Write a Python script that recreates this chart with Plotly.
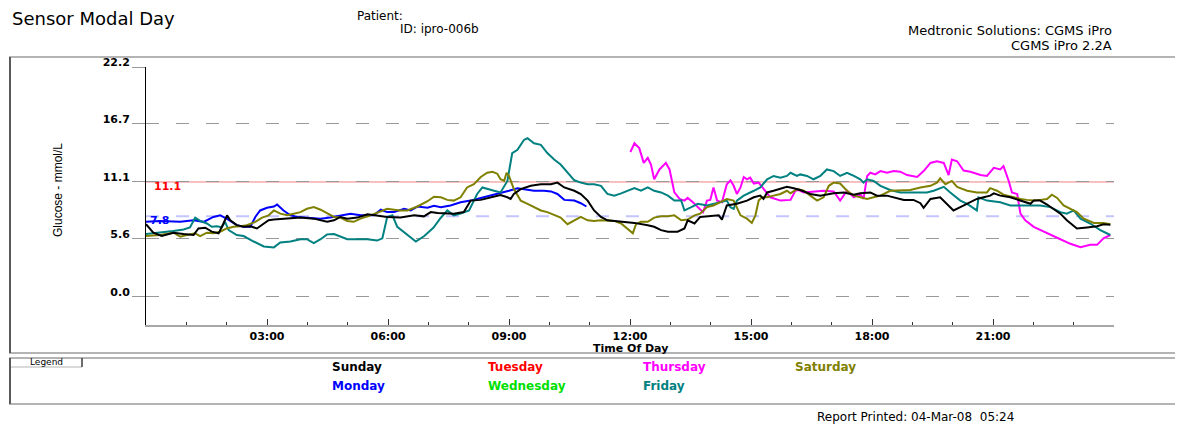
import plotly.graph_objects as go

# ---------------- data (time of day in hours, glucose mmol/L) ----------------
sunday = [(0.00, 7.02), (0.18, 6.20), (0.39, 5.88), (0.68, 6.20), (0.93, 6.07), (1.18, 5.98), (1.30, 6.61),
          (1.47, 6.68), (1.63, 6.30), (1.80, 6.14), (1.92, 7.09), (2.01, 7.88), (2.09, 7.40), (2.25, 6.93),
          (2.42, 6.77), (2.59, 6.83), (2.75, 6.61), (2.88, 6.93), (3.04, 7.40), (3.17, 7.47), (3.50, 7.56),
          (3.83, 7.66), (4.16, 7.56), (4.49, 7.25), (4.66, 7.40), (4.82, 7.72), (4.99, 7.56), (5.24, 7.66),
          (5.49, 7.97), (5.65, 7.88), (5.98, 7.72), (6.31, 7.66), (6.65, 7.88), (6.89, 7.78), (7.06, 8.19),
          (7.23, 8.10), (7.38, 8.10), (7.63, 8.04), (7.88, 8.19), (8.05, 9.30), (8.30, 9.37), (8.54, 9.62),
          (8.79, 9.84), (8.96, 9.62), (9.04, 9.46), (9.12, 9.94), (9.29, 10.41), (9.54, 10.73), (9.79, 10.88),
          (10.04, 10.88), (10.20, 11.04), (10.37, 10.57), (10.62, 10.25), (10.78, 9.94), (10.95, 9.30),
          (11.11, 8.35), (11.28, 7.72), (11.44, 7.40), (11.78, 7.25), (12.11, 7.15), (12.44, 6.93), (12.60, 6.77),
          (12.77, 6.45), (12.94, 6.30), (13.18, 6.30), (13.35, 6.61), (13.43, 7.40), (13.60, 7.09), (13.74, 7.72),
          (13.99, 7.78), (14.20, 7.88), (14.28, 7.47), (14.40, 8.83), (14.65, 8.99), (14.90, 9.30), (15.07, 9.62),
          (15.23, 9.78), (15.31, 9.46), (15.40, 10.09), (15.56, 10.25), (15.73, 10.41), (15.89, 10.63),
          (16.06, 10.50), (16.22, 10.32), (16.47, 9.94), (16.72, 9.78), (17.05, 10.00), (17.30, 10.09),
          (17.55, 9.87), (17.71, 10.00), (17.96, 10.09), (18.12, 9.78), (18.37, 9.78), (18.54, 9.62),
          (18.79, 9.37), (19.03, 9.37), (19.20, 9.05), (19.28, 8.61), (19.45, 9.46), (19.69, 9.62), (19.86, 8.99),
          (20.02, 8.35), (20.19, 8.67), (20.44, 9.14), (20.60, 9.46), (20.77, 9.62), (20.93, 9.78), (21.02, 10.00),
          (21.18, 9.78), (21.43, 9.62), (21.68, 9.30), (21.93, 8.99), (22.01, 9.30), (22.17, 9.30), (22.34, 8.92),
          (22.50, 8.51), (22.67, 8.04), (22.83, 7.40), (23.08, 6.61), (23.33, 6.71), (23.58, 6.83), (23.74, 7.02),
          (23.91, 6.96)]

monday = [(0.00, 7.25), (0.35, 7.34), (0.85, 7.25), (1.18, 7.40), (1.43, 7.25), (1.67, 7.72), (1.84, 7.88),
          (2.00, 7.56), (2.25, 6.93), (2.42, 6.77), (2.59, 6.77), (2.71, 7.72), (2.83, 8.35), (3.00, 8.61),
          (3.17, 8.73), (3.25, 8.92), (3.41, 8.35), (3.58, 7.88), (3.75, 7.72), (3.99, 7.66), (4.33, 7.56),
          (4.57, 7.66), (4.82, 7.88), (5.07, 8.04), (5.32, 7.88), (5.65, 7.88), (5.82, 8.42), (5.98, 8.19),
          (6.15, 8.19), (6.40, 8.51), (6.56, 8.35), (6.73, 8.73), (6.98, 8.61), (7.14, 8.80), (7.31, 8.67),
          (7.55, 8.83), (7.80, 9.14), (8.05, 9.30), (8.30, 9.56), (8.54, 9.78), (8.79, 10.00), (9.00, 10.25),
          (9.21, 10.50), (9.37, 10.41), (9.62, 10.25), (9.87, 10.25), (10.04, 10.19), (10.20, 9.94),
          (10.37, 9.37), (10.62, 9.30), (10.78, 9.05), (10.92, 8.73)]

tuesday = []
wednesday = []

thursday = [(12.01, 13.99), (12.11, 14.84), (12.23, 14.37), (12.34, 12.94), (12.44, 13.42), (12.52, 12.78),
            (12.60, 11.36), (12.73, 12.31), (12.89, 12.94), (12.98, 12.31), (13.10, 10.09), (13.23, 9.46),
            (13.35, 9.30), (13.43, 9.56), (13.56, 9.14), (13.68, 8.67), (13.81, 8.19), (13.91, 9.30),
            (13.99, 9.37), (14.07, 10.57), (14.16, 9.30), (14.28, 9.14), (14.40, 10.88), (14.49, 11.26),
            (14.57, 10.73), (14.65, 9.94), (14.74, 10.57), (14.82, 11.58), (14.90, 11.36), (14.98, 11.52),
            (15.07, 10.95), (15.19, 11.04), (15.31, 10.41), (15.48, 9.62), (15.73, 9.30), (15.98, 9.37),
            (16.10, 10.25), (16.18, 10.32), (16.31, 10.09), (16.55, 10.19), (16.80, 10.25), (17.05, 10.19),
            (17.21, 9.30), (17.38, 10.25), (17.55, 9.62), (17.71, 9.94), (17.79, 9.46), (17.88, 11.68),
            (17.96, 11.99), (18.08, 11.83), (18.21, 12.15), (18.37, 11.99), (18.54, 12.15), (18.70, 12.09),
            (18.87, 11.77), (19.12, 11.58), (19.28, 12.15), (19.45, 12.94), (19.61, 13.10), (19.78, 12.94),
            (19.90, 11.77), (19.98, 13.26), (20.11, 13.10), (20.27, 12.21), (20.44, 12.09), (20.69, 11.77),
            (20.85, 11.68), (21.02, 12.47), (21.18, 12.31), (21.26, 12.63), (21.39, 11.20), (21.47, 10.09),
            (21.60, 9.94), (21.68, 8.04), (21.80, 7.40), (22.01, 6.77), (22.34, 6.14), (22.67, 5.57),
            (22.92, 5.13), (23.17, 4.81), (23.41, 5.03), (23.58, 5.03), (23.74, 5.66), (23.91, 5.98)]

friday = [(0.00, 6.07), (0.35, 6.20), (0.68, 6.36), (0.93, 6.52), (1.09, 6.71), (1.22, 7.66), (1.34, 7.34),
          (1.51, 7.09), (1.63, 6.77), (1.76, 6.83), (1.88, 6.71), (1.96, 7.25), (2.05, 6.45), (2.25, 5.98),
          (2.42, 5.88), (2.67, 5.35), (2.92, 4.87), (3.17, 4.78), (3.33, 5.25), (3.58, 5.35), (3.83, 5.57),
          (3.99, 5.57), (4.16, 5.19), (4.33, 5.57), (4.49, 6.04), (4.66, 6.07), (4.82, 5.82), (4.99, 5.57),
          (5.24, 5.57), (5.49, 5.57), (5.73, 5.44), (5.86, 5.66), (5.98, 7.72), (6.11, 7.88), (6.23, 6.77),
          (6.48, 5.98), (6.69, 5.35), (6.90, 5.88), (7.13, 6.70), (7.30, 7.60), (7.47, 8.35), (7.63, 7.88),
          (7.80, 8.04), (8.01, 8.35), (8.21, 9.94), (8.34, 10.57), (8.46, 10.41), (8.63, 10.25), (8.79, 10.09),
          (8.96, 11.20), (9.08, 13.89), (9.21, 14.21), (9.37, 15.16), (9.46, 15.32), (9.62, 14.84), (9.79, 14.68),
          (9.95, 13.89), (10.12, 13.26), (10.28, 12.78), (10.45, 11.99), (10.62, 11.26), (10.78, 11.04),
          (10.95, 10.88), (11.11, 10.88), (11.28, 10.73), (11.44, 9.94), (11.61, 9.78), (11.78, 10.00),
          (11.94, 10.25), (12.11, 10.50), (12.27, 10.25), (12.44, 10.57), (12.60, 10.25), (12.77, 10.09),
          (12.94, 9.78), (13.10, 9.30), (13.27, 9.30), (13.35, 8.35), (13.52, 8.67), (13.68, 8.99),
          (13.91, 8.83), (14.07, 8.99), (14.24, 9.14), (14.40, 9.30), (14.49, 8.67), (14.57, 8.51),
          (14.65, 9.30), (14.82, 9.78), (15.07, 10.25), (15.23, 10.57), (15.40, 11.36), (15.56, 11.68),
          (15.73, 11.52), (15.89, 11.68), (15.98, 11.99), (16.14, 11.68), (16.22, 11.83), (16.39, 11.68),
          (16.55, 11.36), (16.72, 11.68), (16.88, 12.31), (17.05, 12.15), (17.21, 11.68), (17.38, 11.99),
          (17.55, 11.68), (17.71, 11.36), (17.79, 11.04), (17.88, 11.36), (18.04, 11.20), (18.21, 10.73),
          (18.45, 10.32), (18.70, 10.09), (19.03, 10.09), (19.36, 10.09), (19.53, 10.25), (19.78, 10.63),
          (19.94, 10.09), (20.19, 9.30), (20.36, 8.99), (20.60, 8.35), (20.64, 9.62), (20.85, 9.30),
          (21.18, 9.14), (21.43, 8.83), (21.84, 8.83), (22.17, 8.83), (22.42, 8.67), (22.67, 8.19),
          (22.83, 8.04), (23.00, 8.35), (23.17, 7.56), (23.41, 7.09), (23.66, 6.45), (23.91, 5.98)]

saturday = [(0.00, 5.88), (0.35, 5.98), (0.68, 6.20), (0.85, 5.82), (1.01, 5.98), (1.22, 6.14), (1.34, 5.88),
            (1.51, 6.20), (1.67, 6.14), (1.84, 6.30), (2.00, 6.61), (2.17, 6.77), (2.34, 6.83), (2.50, 6.93),
            (2.71, 7.25), (2.88, 7.66), (3.04, 7.88), (3.17, 8.35), (3.33, 8.04), (3.50, 7.88), (3.66, 8.04),
            (3.83, 8.19), (3.99, 8.51), (4.16, 8.67), (4.33, 8.42), (4.49, 8.04), (4.66, 7.72), (4.82, 7.66),
            (4.99, 7.34), (5.15, 7.25), (5.32, 7.56), (5.57, 7.88), (5.82, 8.29), (5.98, 8.51), (6.15, 8.42),
            (6.31, 8.35), (6.48, 8.35), (6.73, 8.73), (6.98, 9.24), (7.14, 9.68), (7.31, 9.62), (7.47, 9.37),
            (7.63, 9.30), (7.80, 9.62), (7.96, 10.57), (8.13, 10.88), (8.30, 11.58), (8.46, 11.99), (8.59, 12.09),
            (8.71, 11.90), (8.79, 11.36), (8.88, 11.20), (8.94, 11.99), (9.00, 11.68), (9.12, 10.41), (9.29, 9.30),
            (9.46, 8.99), (9.62, 8.67), (9.79, 8.35), (9.95, 8.19), (10.12, 7.88), (10.28, 7.66), (10.45, 7.02),
            (10.62, 7.40), (10.78, 7.72), (10.95, 7.40), (11.11, 7.34), (11.28, 7.40), (11.44, 7.40),
            (11.61, 7.34), (11.78, 7.09), (11.94, 6.61), (12.07, 6.14), (12.15, 7.02), (12.27, 7.25),
            (12.44, 7.25), (12.60, 7.66), (12.77, 7.78), (12.94, 7.78), (13.10, 7.88), (13.27, 7.40),
            (13.43, 7.47), (13.60, 7.88), (13.74, 8.04), (13.91, 8.67), (14.07, 8.83), (14.24, 9.14),
            (14.40, 9.46), (14.57, 9.30), (14.65, 8.67), (14.74, 7.88), (14.90, 7.56), (15.02, 7.15),
            (15.11, 7.88), (15.19, 9.30), (15.27, 9.62), (15.40, 9.62), (15.56, 9.78), (15.73, 9.94),
            (15.89, 10.25), (15.98, 10.00), (16.14, 10.41), (16.31, 10.25), (16.47, 9.78), (16.64, 9.30),
            (16.80, 9.62), (16.93, 10.73), (17.05, 11.04), (17.21, 10.95), (17.38, 10.25), (17.55, 9.78),
            (17.71, 9.62), (17.88, 9.46), (18.04, 9.62), (18.21, 9.78), (18.45, 10.25), (18.70, 10.25),
            (18.95, 10.32), (19.20, 10.57), (19.45, 10.73), (19.61, 11.04), (19.69, 11.45), (19.82, 10.88),
            (19.98, 11.20), (20.11, 10.63), (20.36, 10.25), (20.60, 10.09), (20.85, 10.09), (20.93, 10.50),
            (21.10, 10.25), (21.26, 9.87), (21.43, 9.68), (21.68, 9.46), (21.84, 9.37), (22.01, 9.30),
            (22.17, 9.37), (22.34, 9.46), (22.46, 9.87), (22.59, 9.56), (22.75, 8.83), (22.92, 8.51),
            (23.08, 8.19), (23.25, 7.56), (23.50, 7.15), (23.74, 7.15), (23.91, 7.02)]

day_names = ["Sunday", "Monday", "Tuesday", "Wednesday", "Thursday", "Friday", "Saturday"]
day_colors = ["#000000", "#0000FF", "#FF0000", "#00E000", "#FF00FF", "#008080", "#808000"]
day_series = [sunday, monday, tuesday, wednesday, thursday, friday, saturday]

y_ticks = [0.0, 5.6, 11.1, 16.7, 22.2]
y_ticktext = ["0.0", "5.6", "11.1", "16.7", "22.2"]
x_ticks = [3, 6, 9, 12, 15, 18, 21]
x_ticktext = ["03:00", "06:00", "09:00", "12:00", "15:00", "18:00", "21:00"]
high_limit = 11.1
low_limit = 7.8

# ---------------- layout geometry ----------------
# the page body adds an 8 px margin, so the figure is 8 px smaller and
# every position below is given in page pixels.
PAGE_OFF = 8
FW, FH = 1183 - PAGE_OFF, 425 - PAGE_OFF
PLOT_X0, PLOT_X1 = 146, 1114      # page pixels of the plot area
PLOT_Y0, PLOT_Y1 = 67, 325
PW, PH = PLOT_X1 - PLOT_X0, PLOT_Y1 - PLOT_Y0
ML = PLOT_X0 - PAGE_OFF
MR = FW - (PLOT_X1 - PAGE_OFF)
MT = PLOT_Y0 - PAGE_OFF
MB = FH - (PLOT_Y1 - PAGE_OFF)


def fx(px):
    return (px - PLOT_X0) / PW


def fy(py):
    return (PLOT_Y1 - py) / PH


SANS = "DejaVu Sans"
fig = go.Figure()

# 7.8 label drawn beneath the glucose traces
fig.add_trace(go.Scatter(x=[0.1], y=[low_limit], mode="text", text=[f"{low_limit}"],
                         textposition="bottom right",
                         textfont=dict(family=SANS, size=11, color="#0000FF", weight="bold"),
                         hoverinfo="skip", showlegend=False))

draw_order = ["Monday", "Thursday", "Friday", "Saturday", "Sunday"]
for name in draw_order:
    i = day_names.index(name)
    pts = day_series[i]
    if not pts:
        continue
    xs = [p[0] for p in pts]
    ys = [p[1] for p in pts]
    fig.add_trace(go.Scatter(x=xs, y=ys, mode="lines", name=name,
                             line=dict(color=day_colors[i], width=2),
                             hoverinfo="skip", showlegend=False))

shapes = []
frame_col = "#b4b4b4"
shapes.append(dict(type="rect", xref="paper", yref="paper", x0=fx(10), x1=fx(1180), y0=fy(353), y1=fy(57),
                   line=dict(color=frame_col, width=2), layer="below"))
shapes.append(dict(type="line", xref="paper", yref="paper", x0=fx(10), x1=fx(10), y0=fy(353), y1=fy(57),
                   line=dict(color="#000000", width=1)))
shapes.append(dict(type="rect", xref="paper", yref="paper", x0=fx(10), x1=fx(1180), y0=fy(404), y1=fy(358),
                   line=dict(color=frame_col, width=2), layer="below"))
shapes.append(dict(type="line", xref="paper", yref="paper", x0=fx(10), x1=fx(10), y0=fy(404), y1=fy(358),
                   line=dict(color="#000000", width=1)))
shapes.append(dict(type="rect", xref="paper", yref="paper", x0=fx(10), x1=fx(82), y0=fy(367), y1=fy(358),
                   line=dict(color=frame_col, width=1), layer="below"))
shapes.append(dict(type="line", xref="paper", yref="paper", x0=fx(82), x1=fx(82), y0=fy(367), y1=fy(358),
                   line=dict(color="#000000", width=1)))
shapes.append(dict(type="line", xref="paper", yref="y", x0=0, x1=1, y0=high_limit, y1=high_limit,
                   line=dict(color="#F08080", width=1), layer="between"))
shapes.append(dict(type="line", xref="paper", yref="y", x0=0, x1=1, y0=low_limit, y1=low_limit,
                   line=dict(color="#C4C4FF", width=2, dash="13px,17px"), layer="between"))

ann = []


def text(x, y, s, size, color="#000000", bold=False, xanchor="left", family=SANS, angle=0):
    ann.append(dict(x=fx(x), y=fy(y), xref="paper", yref="paper", text=s, showarrow=False,
                    xanchor=xanchor, yanchor="middle", textangle=angle,
                    font=dict(family=family, size=size, color=color, weight="bold" if bold else "normal")))


text(10, 18, "Sensor Modal Day", 18)
text(355, 16, "Patient:", 12)
text(398, 29, "ID: ipro-006b", 12)
text(1114, 31, "Medtronic Solutions: CGMS iPro", 13, xanchor="right")
text(1114, 45, "CGMS iPro 2.2A", 13, xanchor="right")
text(58, 190, "Glucose - mmol/L", 12, family="Liberation Sans Narrow, Arial Narrow, Liberation Sans",
     angle=-90)
ann[-1]["xanchor"] = "center"
text(630, 348, "Time Of Day", 11, bold=True, xanchor="center")
text(152, 186, f"{high_limit}", 11, color="#FF0000", bold=True)
text(46, 362, "Legend", 9, xanchor="center")
text(815, 417, "Report Printed: 04-Mar-08  05:24", 12)

legend_pos = {"Sunday": (330, 367), "Monday": (330, 386), "Tuesday": (486, 367), "Wednesday": (486, 386),
              "Thursday": (641, 367), "Friday": (641, 386), "Saturday": (793, 367)}
for name, col in zip(day_names, day_colors):
    x, y = legend_pos[name]
    text(x, y, name, 12, color=col, bold=True)

fig.update_layout(
    width=FW, height=FH,
    margin=dict(l=ML, r=MR, t=MT, b=MB, pad=0),
    paper_bgcolor="white", plot_bgcolor="white",
    showlegend=False,
    shapes=shapes, annotations=ann,
    xaxis=dict(range=[0, 24], showgrid=False, zeroline=False,
               showline=True, linecolor="#a8a8a8", linewidth=2,
               tickmode="array", tickvals=x_ticks, ticktext=x_ticktext,
               ticks="inside", ticklen=6, tickwidth=1, tickcolor="#333333",
               tickfont=dict(family=SANS, size=11, color="#000000", weight="bold"),
               minor=dict(tickmode="linear", tick0=0, dtick=1, ticks="inside", ticklen=3,
                          tickwidth=1, tickcolor="#333333", showgrid=False)),
    yaxis=dict(range=[-2.71, 22.2], zeroline=False,
               showline=True, linecolor="#000000", linewidth=1,
               tickmode="array", tickvals=y_ticks, ticktext=y_ticktext,
               ticks="outside", ticklen=13, tickwidth=1, tickcolor="#999999",
               ticklabelshift=-5,
               tickfont=dict(family=SANS, size=11, color="#000000", weight="bold"),
               showgrid=True, gridcolor="#999999", gridwidth=1, griddash="13px,17px"),
)

fig.write_html("out.html")
